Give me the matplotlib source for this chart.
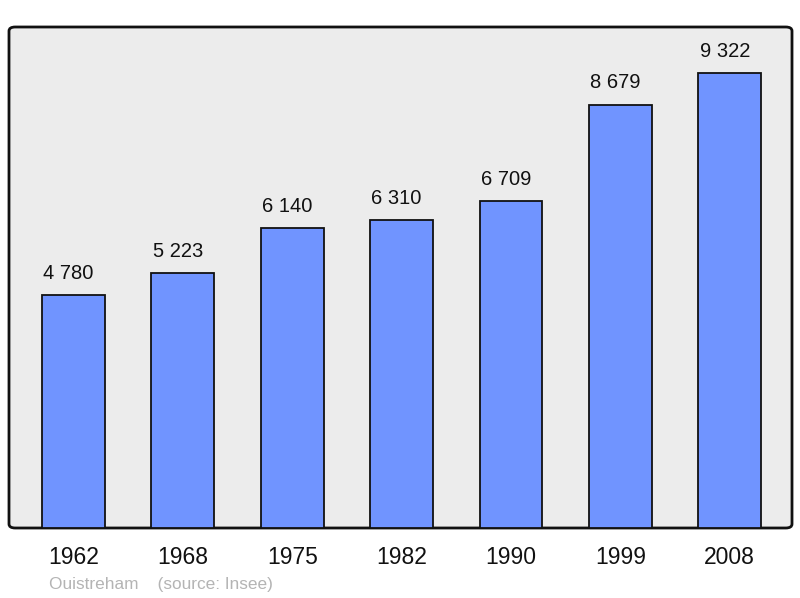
import matplotlib.pyplot as plt
from matplotlib.patches import FancyBboxPatch

years = ['1962', '1968', '1975', '1982', '1990', '1999', '2008']
population = [4780, 5223, 6140, 6310, 6709, 8679, 9322]
labels = ['4 780', '5 223', '6 140', '6 310', '6 709', '8 679', '9 322']

plt.rcParams['font.family'] = ['Liberation Sans', 'DejaVu Sans']

fig = plt.figure(figsize=(8, 5.98), dpi=100)
ax = fig.add_axes([9 / 800, 1 - 528 / 598, 783 / 800, 501 / 598])
ax.set_facecolor('none')

# rounded frame instead of the spines
frame = FancyBboxPatch((0, 0), 1, 1, boxstyle='round,pad=0,rounding_size=0.008',
                       transform=ax.transAxes, facecolor='#ececec',
                       edgecolor='#111111', linewidth=2, zorder=0, clip_on=False)
ax.add_patch(frame)
for s in ax.spines.values():
    s.set_visible(False)

x = list(range(len(years)))
ax.bar(x, population, width=0.575, color='#7094ff', edgecolor='#111111',
       linewidth=1.3, zorder=2)
# value labels sit a little left of the bar centre in the original
for xi, v, lab in zip(x, population, labels):
    ax.text(xi - 0.045, v + 250, lab, ha='center', va='bottom', fontsize=14.5,
            color='#111111')

ax.set_xlim(-0.59, 6.57)
ax.set_ylim(0, 10270)
ax.set_yticks([])
ax.set_xticks(x)
ax.set_xticklabels(years, fontsize=16.5, color='#111111')
ax.tick_params(axis='x', length=0, pad=13)

fig.text(49 / 800, 1 - 585 / 598, 'Ouistreham    (source: Insee)', fontsize=12.4,
         color='#b4b4b4', va='center', ha='left')

fig.savefig('out.png', dpi=100)
